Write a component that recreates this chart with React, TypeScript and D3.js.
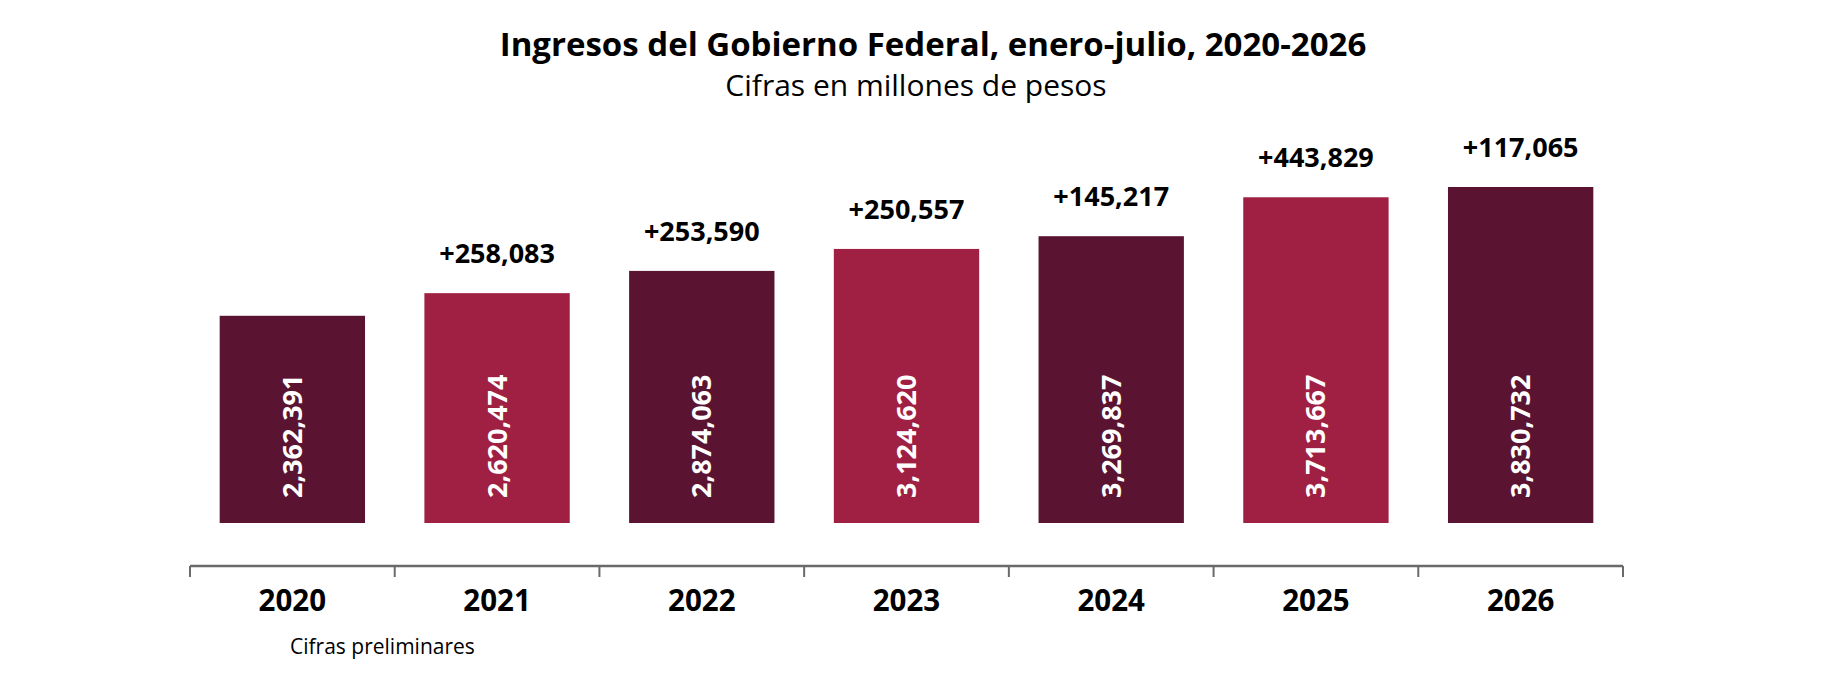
import React from "react";
import * as d3 from "d3";

const years = ["2020", "2021", "2022", "2023", "2024", "2025", "2026"];
const ingresos = [2362391, 2620474, 2874063, 3124620, 3269837, 3713667, 3830732];
const incrementos = [null, 258083, 253590, 250557, 145217, 443829, 117065];
const barColors = ["#5a1330", "#9f2042", "#5a1330", "#9f2042", "#5a1330", "#9f2042", "#5a1330"];

const title = "Ingresos del Gobierno Federal, enero-julio, 2020-2026";
const subtitle = "Cifras en millones de pesos";
const footnote = "Cifras preliminares";

const W = 1836;
const H = 676;
const FONT = "'Open Sans', 'Noto Sans', sans-serif";

export default function App() {
  const x = d3
    .scaleBand<string>()
    .domain(years)
    .range([190, 1623])
    .paddingInner(0.29)
    .paddingOuter(0.145);
  const y = d3
    .scaleLinear()
    .domain([0, d3.max(ingresos) as number])
    .range([523, 187]);
  const fmt = d3.format(",");
  const step = x.step();
  const axisY = 566;
  const boundaries = d3.range(years.length + 1).map((i) => 190 + i * step);

  return (
    <svg
      width={W}
      height={H}
      style={{ position: "absolute", left: 0, top: 0, background: "#fff" }}
      fontFamily={FONT}
    >
      <text x={933} y={56} textAnchor="middle" fontSize={33} fontWeight={700} fill="#000">
        {title}
      </text>
      <text x={916} y={96} textAnchor="middle" fontSize={30} fill="#000">
        {subtitle}
      </text>

      {years.map((yr, i) => {
        const bx = x(yr) as number;
        const bw = x.bandwidth();
        const top = y(ingresos[i]);
        const cx = bx + bw / 2;
        const inc = incrementos[i];
        return (
          <g key={yr}>
            <rect x={bx} y={top} width={bw} height={y(0) - top} fill={barColors[i]} />
            <text
              transform={`translate(${cx + 9.5},${y(0) - 25}) rotate(-90)`}
              textAnchor="start"
              fontSize={27}
              fontWeight={700}
              fill="#fff"
            >
              {fmt(ingresos[i])}
            </text>
            {inc !== null && (
              <text x={cx} y={top - 30} textAnchor="middle" fontSize={27} fontWeight={700} fill="#000">
                {"+" + fmt(inc)}
              </text>
            )}
            <text x={cx} y={611} textAnchor="middle" fontSize={29.5} fontWeight={700} fill="#000">
              {yr}
            </text>
          </g>
        );
      })}

      <line x1={190} x2={1623} y1={axisY} y2={axisY} stroke="#6a6a6a" strokeWidth={2.5} />
      {boundaries.map((bx, i) => (
        <line key={i} x1={bx} x2={bx} y1={axisY} y2={axisY + 11} stroke="#6a6a6a" strokeWidth={2} />
      ))}

      <text x={290} y={654} fontSize={21} fill="#000">
        {footnote}
      </text>
    </svg>
  );
}
